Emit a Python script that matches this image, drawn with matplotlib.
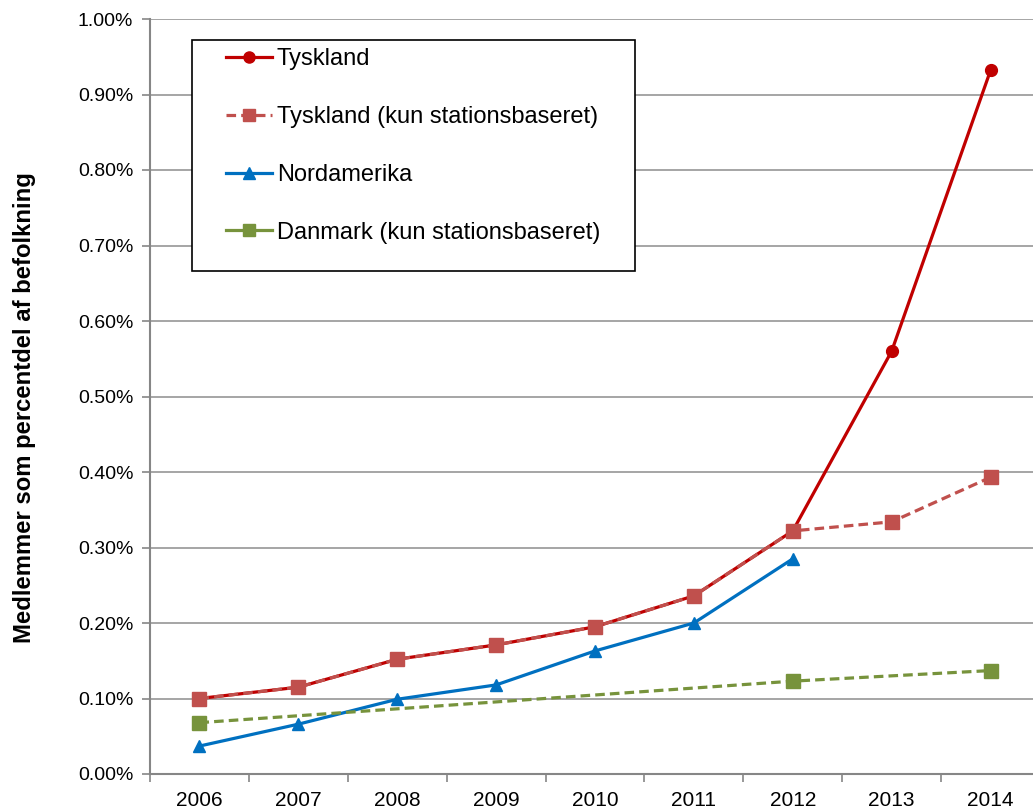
import matplotlib.pyplot as plt
from matplotlib.lines import Line2D
from matplotlib.patches import Rectangle
import numpy as np

plt.rcParams['font.family'] = ['Liberation Sans', 'DejaVu Sans']

years = ['2006', '2007', '2008', '2009', '2010', '2011', '2012', '2013', '2014']
tyskland = [0.100, 0.115, 0.152, 0.171, 0.195, 0.236, 0.322, 0.560, 0.932]
tyskland_station = [0.100, 0.115, 0.152, 0.171, 0.195, 0.236, 0.322, 0.334, 0.393]
nordamerika = [0.037, 0.066, 0.099, 0.118, 0.163, 0.200, 0.285]
danmark_years = ['2006', '2012', '2014']
danmark = [0.068, 0.123, 0.137]

c_tys = '#C00000'
c_tys_st = '#C0504D'
c_nam = '#0070C0'
c_dk = '#77933C'

W, H = 1033, 810
fig = plt.figure(figsize=(W / 100, H / 100), dpi=100)
ax = fig.add_axes([150 / W, 1 - 774 / H, (1040 - 150) / W, (774 - 19) / H])

x = np.arange(len(years))
x_dk = [years.index(y) for y in danmark_years]
dash = (0, (3, 1.6))

ax.plot(x, tyskland, color=c_tys, lw=2.3, marker='o', ms=8.5, zorder=3)
ax.plot(x, tyskland_station, color=c_tys_st, lw=2.3, ls=dash, marker='s', ms=9.5, zorder=4)
ax.plot(x[:len(nordamerika)], nordamerika, color=c_nam, lw=2.3, marker='^', ms=9, zorder=3)
ax.plot(x_dk, danmark, color=c_dk, lw=2.3, ls=dash, marker='s', ms=9.5, zorder=3)

ax.set_xlim(-0.5, len(years) - 0.5)
ax.set_ylim(0, 1.0)
yt = np.arange(0, 1.001, 0.1)
ax.set_yticks(yt)
ax.set_yticklabels(['%.2f%%' % v for v in yt])
ax.set_xticks(x)
ax.set_xticklabels(years)
ax.set_xticks(np.arange(-0.5, len(years), 1), minor=True)
ax.tick_params(axis='x', which='major', length=0, labelsize=15, pad=12.5)
ax.tick_params(axis='x', which='minor', length=6, color='#868686', width=1.2)
ax.tick_params(axis='y', length=6, color='#868686', width=1.2, labelsize=14, pad=6)
ax.grid(axis='y', color='#969696', lw=1.2)
ax.set_axisbelow(True)
for s in ['top', 'right']:
    ax.spines[s].set_visible(False)
for s in ['left', 'bottom']:
    ax.spines[s].set_color('#868686')
    ax.spines[s].set_linewidth(1.5)

fig.text(25 / W, 1 - 408 / H, 'Medlemmer som percentdel af befolkning', rotation=90,
         fontsize=17.2, fontweight='bold', ha='center', va='center')

# legend box
fig.patches.append(Rectangle((192 / W, 1 - 271 / H), (635 - 192) / W, (271 - 40) / H,
                             transform=fig.transFigure, fill=True, facecolor='white',
                             edgecolor='black', lw=1.2, zorder=5))

handles = [
    Line2D([], [], color=c_tys, lw=2.3, marker='o', ms=8),
    Line2D([], [], color=c_tys_st, lw=2.3, ls=dash, marker='s', ms=8),
    Line2D([], [], color=c_nam, lw=2.3, marker='^', ms=8),
    Line2D([], [], color=c_dk, lw=2.3, marker='s', ms=8),
]
labels = ['Tyskland', 'Tyskland (kun stationsbaseret)', 'Nordamerika', 'Danmark (kun stationsbaseret)']
leg = fig.legend(handles, labels, loc='upper left', bbox_to_anchor=(226 / W, 1 - 48 / H),
                 fontsize=17, frameon=False, labelspacing=1.52, handlelength=1.95,
                 handletextpad=0.2, borderpad=0, borderaxespad=0)
leg.set_zorder(6)

fig.savefig('out.png', dpi=100)
